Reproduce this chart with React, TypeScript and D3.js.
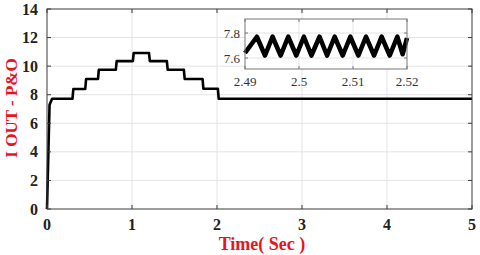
import React, { useEffect, useRef } from 'react';
import * as d3 from 'd3';

// main trace: I OUT of the P&O controller vs time (s)
const mainTime = [0, 0.03, 0.06, 0.3, 0.31, 0.45, 0.46, 0.6, 0.61, 0.81, 0.82, 1.01, 1.02, 1.2, 1.21, 1.41, 1.42, 1.61, 1.62, 1.83, 1.84, 2.01, 2.02, 5];
const mainCurrent = [0, 7.3, 7.72, 7.72, 8.4, 8.4, 9.1, 9.1, 9.75, 9.75, 10.35, 10.35, 10.92, 10.92, 10.35, 10.35, 9.75, 9.75, 9.1, 9.1, 8.42, 8.42, 7.72, 7.72];

// zoomed inset (ripple around 2.5 s)
const insetTime = [2.49, 2.4922, 2.4937, 2.4951, 2.4966, 2.498, 2.4995, 2.5009, 2.5023, 2.5038, 2.5052, 2.5066, 2.5081, 2.5095, 2.511, 2.5124, 2.5139, 2.5153, 2.5168, 2.5182, 2.5192, 2.52];
const insetCurrent = [7.64, 7.77, 7.62, 7.77, 7.62, 7.77, 7.62, 7.77, 7.62, 7.77, 7.62, 7.77, 7.62, 7.77, 7.62, 7.77, 7.62, 7.77, 7.62, 7.77, 7.63, 7.76];

const xTicks = [0, 1, 2, 3, 4, 5];
const yTicks = [0, 2, 4, 6, 8, 10, 12, 14];
const insetXTicks = [2.49, 2.5, 2.51, 2.52];
const insetYTicks = [7.6, 7.8];

const App: React.FC = () => {
  const svgRef = useRef<SVGSVGElement | null>(null);

  useEffect(() => {
    const svg = d3.select(svgRef.current);
    svg.selectAll('*').remove();

    const font = '"Liberation Serif", "Times New Roman", serif';
    const axisColor = '#3a3a3a';
    const gridColor = '#e3e3e3';

    const m = { left: 47, right: 472, top: 9, bottom: 209 };
    const x = d3.scaleLinear().domain([0, 5]).range([m.left, m.right]);
    const y = d3.scaleLinear().domain([0, 14]).range([m.bottom, m.top]);

    svg.append('rect').attr('width', 480).attr('height', 255).attr('fill', '#fff');

    // grid
    const grid = svg.append('g');
    grid.selectAll('line.gx').data(xTicks.slice(1, -1)).join('line')
      .attr('x1', d => x(d)).attr('x2', d => x(d))
      .attr('y1', m.top).attr('y2', m.bottom)
      .attr('stroke', gridColor).attr('stroke-width', 1);
    grid.selectAll('line.gy').data(yTicks.slice(1, -1)).join('line')
      .attr('class', 'gy')
      .attr('x1', m.left).attr('x2', m.right)
      .attr('y1', d => y(d)).attr('y2', d => y(d))
      .attr('stroke', gridColor).attr('stroke-width', 1);

    // main line
    const line = d3.line<number>()
      .x((_, i) => x(mainTime[i]))
      .y(d => y(d));
    svg.append('path')
      .attr('d', line(mainCurrent))
      .attr('fill', 'none')
      .attr('stroke', '#000')
      .attr('stroke-width', 2.6)
      .attr('stroke-linejoin', 'round');

    // box + ticks
    svg.append('rect')
      .attr('x', m.left).attr('y', m.top)
      .attr('width', m.right - m.left).attr('height', m.bottom - m.top)
      .attr('fill', 'none').attr('stroke', axisColor).attr('stroke-width', 1);

    const ticks = svg.append('g').attr('stroke', axisColor).attr('stroke-width', 1);
    xTicks.forEach(t => {
      ticks.append('line').attr('x1', x(t)).attr('x2', x(t)).attr('y1', m.bottom).attr('y2', m.bottom - 4);
      ticks.append('line').attr('x1', x(t)).attr('x2', x(t)).attr('y1', m.top).attr('y2', m.top + 4);
    });
    yTicks.forEach(t => {
      ticks.append('line').attr('x1', m.left).attr('x2', m.left + 4).attr('y1', y(t)).attr('y2', y(t));
      ticks.append('line').attr('x1', m.right).attr('x2', m.right - 4).attr('y1', y(t)).attr('y2', y(t));
    });

    svg.append('g').selectAll('text').data(xTicks).join('text')
      .attr('x', d => x(d)).attr('y', 230)
      .attr('text-anchor', 'middle')
      .attr('font-family', font).attr('font-weight', 'bold').attr('font-size', 16)
      .attr('fill', '#222')
      .text(d => d);

    svg.append('g').selectAll('text').data(yTicks).join('text')
      .attr('x', 38).attr('y', d => y(d) + 5.5)
      .attr('text-anchor', 'end')
      .attr('font-family', font).attr('font-weight', 'bold').attr('font-size', 16)
      .attr('fill', '#222')
      .text(d => d);

    svg.append('text')
      .attr('x', 262).attr('y', 250)
      .attr('text-anchor', 'middle')
      .attr('font-family', font).attr('font-weight', 'bold').attr('font-size', 18)
      .attr('fill', '#e8141c')
      .text('Time( Sec )');

    svg.append('text')
      .attr('transform', 'translate(17,108) rotate(-90)')
      .attr('text-anchor', 'middle')
      .attr('font-family', font).attr('font-weight', 'bold').attr('font-size', 17)
      .attr('fill', '#e8141c')
      .text('I OUT - P&O');

    // inset
    const im = { left: 245, right: 407, top: 19, bottom: 69 };
    const ix = d3.scaleLinear().domain([2.49, 2.52]).range([im.left, im.right]);
    const iy = d3.scaleLinear().domain([7.5, 7.9]).range([im.bottom + 1.5, im.top + 1.5]);

    svg.append('rect')
      .attr('x', im.left).attr('y', im.top)
      .attr('width', im.right - im.left).attr('height', im.bottom - im.top)
      .attr('fill', '#fff');

    const ig = svg.append('g');
    ig.selectAll('line.ix').data(insetXTicks.slice(1, -1)).join('line')
      .attr('x1', d => ix(d)).attr('x2', d => ix(d))
      .attr('y1', im.top).attr('y2', im.bottom)
      .attr('stroke', gridColor);
    ig.selectAll('line.iy').data(insetYTicks).join('line')
      .attr('class', 'iy')
      .attr('x1', im.left).attr('x2', im.right)
      .attr('y1', d => iy(d)).attr('y2', d => iy(d))
      .attr('stroke', gridColor);

    const iline = d3.line<number>()
      .x((_, i) => ix(insetTime[i]))
      .y(d => iy(d));
    svg.append('path')
      .attr('d', iline(insetCurrent))
      .attr('fill', 'none')
      .attr('stroke', '#000')
      .attr('stroke-width', 4.6)
      .attr('stroke-linejoin', 'round');

    svg.append('rect')
      .attr('x', im.left).attr('y', im.top)
      .attr('width', im.right - im.left).attr('height', im.bottom - im.top)
      .attr('fill', 'none').attr('stroke', '#777').attr('stroke-width', 1);

    const iticks = svg.append('g').attr('stroke', '#777');
    insetXTicks.forEach(t => {
      iticks.append('line').attr('x1', ix(t)).attr('x2', ix(t)).attr('y1', im.bottom).attr('y2', im.bottom - 3);
      iticks.append('line').attr('x1', ix(t)).attr('x2', ix(t)).attr('y1', im.top).attr('y2', im.top + 3);
    });
    insetYTicks.forEach(t => {
      iticks.append('line').attr('x1', im.left).attr('x2', im.left + 3).attr('y1', iy(t)).attr('y2', iy(t));
      iticks.append('line').attr('x1', im.right).attr('x2', im.right - 3).attr('y1', iy(t)).attr('y2', iy(t));
    });

    svg.append('g').selectAll('text').data(insetXTicks).join('text')
      .attr('x', d => ix(d)).attr('y', 86)
      .attr('text-anchor', 'middle')
      .attr('font-family', font).attr('font-size', 13)
      .attr('fill', '#333')
      .text(d => d);

    svg.append('g').selectAll('text').data(insetYTicks).join('text')
      .attr('x', 240).attr('y', d => iy(d) + 4.5)
      .attr('text-anchor', 'end')
      .attr('font-family', font).attr('font-size', 13)
      .attr('fill', '#333')
      .text(d => d);
  }, []);

  return (
    <svg ref={svgRef} width={480} height={255}
      style={{ position: 'absolute', left: 0, top: 0, display: 'block' }} />
  );
};

export default App;
